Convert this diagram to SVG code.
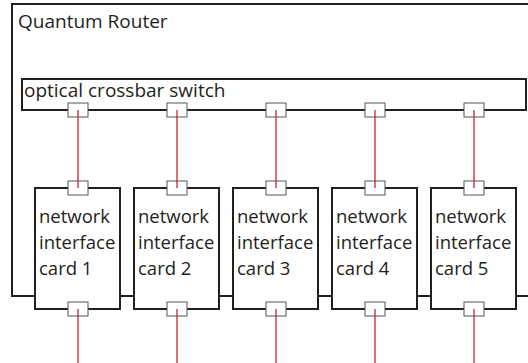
<svg xmlns="http://www.w3.org/2000/svg" width="528" height="363" viewBox="0 0 528 363">
<style>
.box{fill:#fff;stroke:#231f20;stroke-width:2}
.outer{fill:none;stroke:#231f20;stroke-width:2}
.port{fill:#fff;stroke:#555;stroke-width:1}
.wire{stroke:#c8102e;stroke-width:1.2;fill:none}
text{font-family:"Open Sans","Liberation Sans",sans-serif;font-size:19px;fill:#231f20}
.card{font-size:18.5px}
</style>
<rect width="528" height="363" fill="#fff"/>
<g id="quantum-router">
<rect class="outer" x="12" y="4" width="530" height="292"/>
<text x="18" y="28">Quantum Router</text>
</g>
<g id="optical-crossbar-switch">
<rect class="box" x="22" y="79" width="504" height="31"/>
<text x="24" y="97">optical crossbar switch</text>
<rect class="port" x="68" y="103" width="20" height="14"/>
<rect class="port" x="167" y="103" width="20" height="14"/>
<rect class="port" x="266" y="103" width="20" height="14"/>
<rect class="port" x="365" y="103" width="20" height="14"/>
<rect class="port" x="464" y="103" width="20" height="14"/>
</g>
<g id="nic1">
<rect class="box" x="35" y="188" width="85" height="121"/>
<rect class="port" x="68" y="181" width="20" height="14"/>
<rect class="port" x="68" y="302" width="20" height="14"/>
<text class="card" x="39" y="223">network</text><text class="card" x="39" y="249">interface</text><text class="card" x="39" y="275">card 1</text>
</g>
<g id="nic2">
<rect class="box" x="134" y="188" width="85" height="121"/>
<rect class="port" x="167" y="181" width="20" height="14"/>
<rect class="port" x="167" y="302" width="20" height="14"/>
<text class="card" x="138" y="223">network</text><text class="card" x="138" y="249">interface</text><text class="card" x="138" y="275">card 2</text>
</g>
<g id="nic3">
<rect class="box" x="233" y="188" width="85" height="121"/>
<rect class="port" x="266" y="181" width="20" height="14"/>
<rect class="port" x="266" y="302" width="20" height="14"/>
<text class="card" x="237" y="223">network</text><text class="card" x="237" y="249">interface</text><text class="card" x="237" y="275">card 3</text>
</g>
<g id="nic4">
<rect class="box" x="332" y="188" width="85" height="121"/>
<rect class="port" x="365" y="181" width="20" height="14"/>
<rect class="port" x="365" y="302" width="20" height="14"/>
<text class="card" x="336" y="223">network</text><text class="card" x="336" y="249">interface</text><text class="card" x="336" y="275">card 4</text>
</g>
<g id="nic5">
<rect class="box" x="431" y="188" width="85" height="121"/>
<rect class="port" x="464" y="181" width="20" height="14"/>
<rect class="port" x="464" y="302" width="20" height="14"/>
<text class="card" x="435" y="223">network</text><text class="card" x="435" y="249">interface</text><text class="card" x="435" y="275">card 5</text>
</g>
<g id="connectors">
<line class="wire" x1="78" y1="110" x2="78" y2="188"/>
<line class="wire" x1="177" y1="110" x2="177" y2="188"/>
<line class="wire" x1="276" y1="110" x2="276" y2="188"/>
<line class="wire" x1="375" y1="110" x2="375" y2="188"/>
<line class="wire" x1="474" y1="110" x2="474" y2="188"/>
<line class="wire" x1="78" y1="309" x2="78" y2="363"/>
<line class="wire" x1="177" y1="309" x2="177" y2="363"/>
<line class="wire" x1="276" y1="309" x2="276" y2="363"/>
<line class="wire" x1="375" y1="309" x2="375" y2="363"/>
<line class="wire" x1="474" y1="309" x2="474" y2="363"/>
</g>
</svg>
